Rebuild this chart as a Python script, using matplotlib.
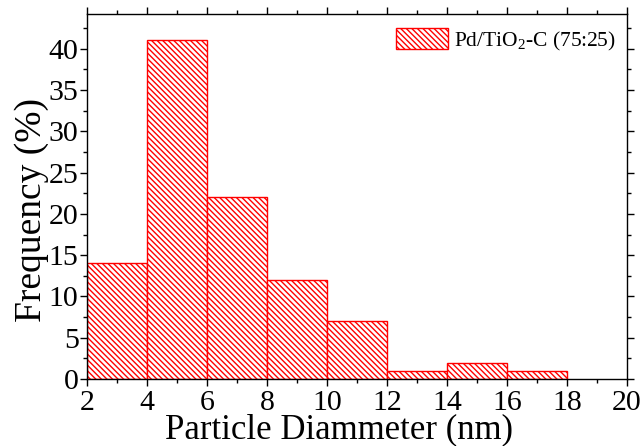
import matplotlib.pyplot as plt
from matplotlib.ticker import MultipleLocator

plt.rcParams['font.family'] = ['Liberation Serif', 'DejaVu Serif']
plt.rcParams['mathtext.fontset'] = 'custom'
plt.rcParams['mathtext.rm'] = 'Liberation Serif'
plt.rcParams['hatch.linewidth'] = 1.0

bin_left = [2, 4, 6, 8, 10, 12, 14, 16]
frequency = [14, 41, 22, 12, 7, 1, 2, 1]
bin_width = 2
label = 'Pd/TiO$_2$-C (75:25)'

fig = plt.figure(figsize=(6.44, 4.46), dpi=100)
ax = fig.add_axes([0.135, 0.150, 0.8386, 0.8186])

ax.bar(bin_left, frequency, width=bin_width, align='edge',
       facecolor='white', edgecolor='red', linewidth=1.0,
       hatch='\\' * 6, label=label)

ax.set_xlim(2, 20)
ax.set_ylim(0, 44.2)
ax.xaxis.set_major_locator(MultipleLocator(2))
ax.xaxis.set_minor_locator(MultipleLocator(1))
ax.yaxis.set_major_locator(MultipleLocator(5))
ax.yaxis.set_minor_locator(MultipleLocator(2.5))

ax.tick_params(which='both', direction='out', top=True, right=True,
               labeltop=False, labelright=False, labelsize=21.5, width=1)
ax.tick_params(which='major', length=5, pad=1)
ax.tick_params(axis='x', which='major', pad=3)
ax.tick_params(which='minor', length=3)
for s in ax.spines.values():
    s.set_linewidth(1)

ax.set_xlabel('Particle Diammeter (nm)', fontsize=25, labelpad=-2, x=0.467)
ax.set_ylabel('Frequency (%)', fontsize=27, labelpad=0, y=0.463)

ax.legend(loc='upper right', frameon=False, fontsize=15.5,
          handlelength=2.4, handleheight=1.1, handletextpad=0.3,
          bbox_to_anchor=(1.0, 0.99), borderaxespad=0.1)

fig.savefig('out.png', dpi=100)
